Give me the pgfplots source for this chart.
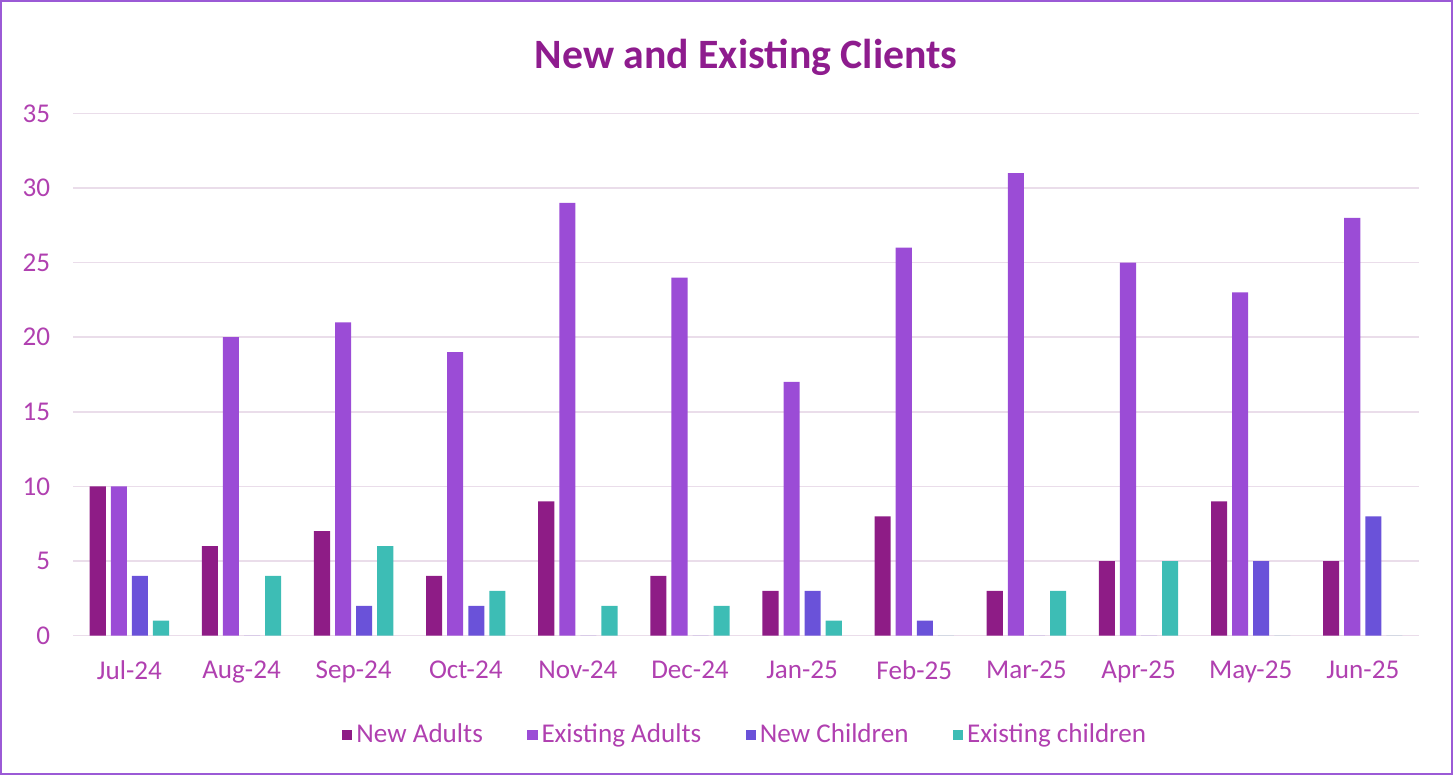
\documentclass[border=0pt]{standalone}
\usepackage{pgfplots}
\pgfplotsset{compat=1.18}
\usepackage{fontspec}
\setmainfont{Carlito}
\usetikzlibrary{calc}
\definecolor{cNA}{HTML}{8E1C86}
\definecolor{cEA}{HTML}{9B4CD6}
\definecolor{cNC}{HTML}{6A52D9}
\definecolor{cEC}{HTML}{3DBDB5}
\definecolor{ctxt}{HTML}{B040B0}
\definecolor{ctitle}{HTML}{8E1C8E}
\definecolor{cgrid}{HTML}{EADDEA}
\definecolor{cframe}{HTML}{9B5AD6}
\begin{document}
\begin{tikzpicture}
\begin{axis}[
  scale only axis,
  width=670pt, height=260pt,
  ybar=2.5pt, bar width=8pt,
  xmin=-0.5, xmax=11.5,
  ymin=0, ymax=35,
  ytick={0,5,...,35},
  xtick=data,
  xticklabels={Jul-24,Aug-24,Sep-24,Oct-24,Nov-24,Dec-24,Jan-25,Feb-25,Mar-25,Apr-25,May-25,Jun-25},
  ymajorgrids, grid style={cgrid, line width=0.8pt},
  axis line style={draw=none},
  axis x line*=bottom,
  major tick length=0pt,
  tick label style={font=\fontsize{13.5}{16}\selectfont, text=ctxt},
  /pgf/number format/assume math mode=true,
  xticklabel style={yshift=-9pt},
  yticklabel style={xshift=-8pt},
  title={\textbf{New and Existing Clients}},
  title style={at={(0.5,1)}, anchor=center, yshift=22pt, font=\fontsize{20.8}{25}\selectfont, text=ctitle},
  legend style={at={(0.5,-0.19)}, anchor=center, legend columns=4, draw=none, fill=none,
    font=\fontsize{13.5}{16}\selectfont, text=ctxt,
    /tikz/every even column/.append style={column sep=20pt}},
  legend image code/.code={\fill[#1,draw=none] (-2pt,-2.6pt) rectangle (3.2pt,2.6pt);},
  every axis plot/.append style={draw=none},
  clip=false,
]
\addplot[fill=cNA] coordinates {(0,10) (1,6) (2,7) (3,4) (4,9) (5,4) (6,3) (7,8) (8,3) (9,5) (10,9) (11,5)};
\addplot[fill=cEA] coordinates {(0,10) (1,20) (2,21) (3,19) (4,29) (5,24) (6,17) (7,26) (8,31) (9,25) (10,23) (11,28)};
\addplot[fill=cNC] coordinates {(0,4) (1,0) (2,2) (3,2) (4,0) (5,0) (6,3) (7,1) (8,0) (9,0) (10,5) (11,8)};
\addplot[fill=cEC] coordinates {(0,1) (1,4) (2,6) (3,3) (4,2) (5,2) (6,1) (7,0) (8,3) (9,5) (10,0) (11,0)};
\legend{New Adults, Existing Adults, New Children, Existing children}
\end{axis}
\draw[cframe, line width=1pt] ($(current axis.south west)+(-36pt,-69pt)$) rectangle ($(current axis.north east)+(16.5pt,56pt)$);
\end{tikzpicture}
\end{document}
